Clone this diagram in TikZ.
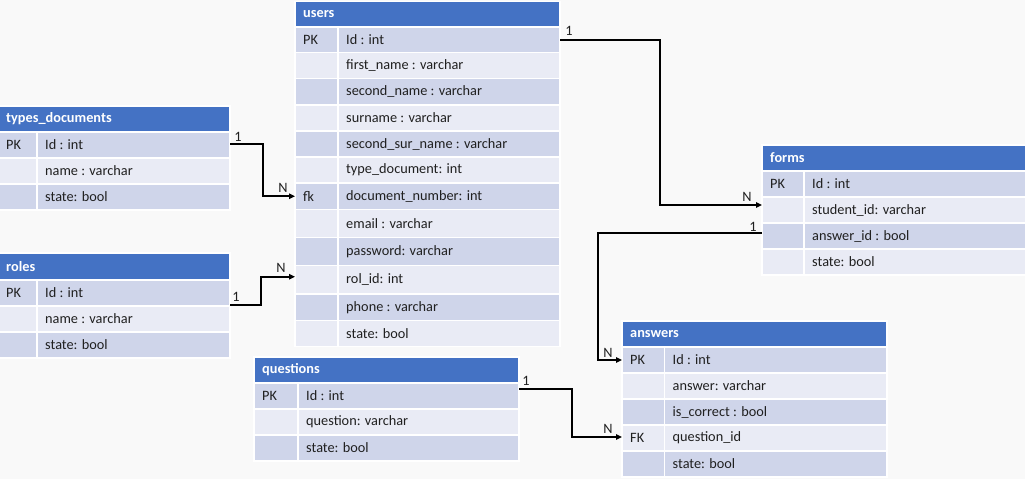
\documentclass[tikz,border=0pt]{standalone}
\usepackage{fontspec}
\setmainfont{Carlito}
\usetikzlibrary{arrows.meta,calc}
\definecolor{hdrblue}{HTML}{4472C4}
\definecolor{rowdark}{HTML}{CFD5EA}
\definecolor{rowlight}{HTML}{E9EBF5}
\definecolor{bgcol}{HTML}{F9F9F9}
\definecolor{txtcol}{HTML}{202020}
\tikzset{
  cellbox/.style={draw=white, line width=1.8pt, anchor=north west, inner sep=0pt, outer sep=0pt},
  celltext/.style={anchor=west, inner sep=0pt, text=txtcol, font=\fontsize{14.3}{17}\selectfont},
  hdrtext/.style={anchor=west, inner sep=0pt, text=white, font=\fontsize{14.3}{17}\selectfont\bfseries},
  conn/.style={draw=black, line width=1.7pt, -{Triangle[length=6pt,width=5.5pt]}},
  cardlbl/.style={inner sep=0pt, text=txtcol, font=\fontsize{14.3}{17}\selectfont},
}
% name, x0, xs, x1, ytop, ybot, fill, key, text
\newcommand\erow[9]{%
  \node[cellbox, fill=#7, minimum width={(#3-#2)*1pt}, minimum height={(#6-#5)*1pt}] (#1-k) at (#2,#5) {};
  \node[cellbox, fill=#7, minimum width={(#4-#3)*1pt}, minimum height={(#6-#5)*1pt}] (#1) at (#3,#5) {};
  \node[celltext] (#1-kt) at ([xshift=8pt]#1-k.west) {#8};
  \node[celltext] (#1-t) at ([xshift=8pt]#1.west) {#9};
}
% name, x0, x1, ytop, ybot, title
\newcommand\ehead[6]{%
  \node[cellbox, fill=hdrblue, minimum width={(#3-#2)*1pt}, minimum height={(#5-#4)*1pt}] (#1) at (#2,#4) {};
  \node[hdrtext] (#1-t) at ([xshift=8pt]#1.west) {#6};
}
\begin{document}
\begin{tikzpicture}[x=1pt,y=-1pt]
\useasboundingbox (0,0) rectangle (1025,479);
\fill[bgcol] (0,0) rectangle (1025,479);

% users
\ehead{users}{295}{560}{1.5}{27}{users}
\erow{users-id}{295}{338}{560}{27}{52.5}{rowdark}{PK}{Id : int}
\erow{users-fn}{295}{338}{560}{52.5}{78.5}{rowlight}{}{first\_name : varchar}
\erow{users-sn}{295}{338}{560}{78.5}{105}{rowdark}{}{second\_name : varchar}
\erow{users-su}{295}{338}{560}{105}{131}{rowlight}{}{surname : varchar}
\erow{users-ssn}{295}{338}{560}{131}{157}{rowdark}{}{second\_sur\_name : varchar}
\erow{users-td}{295}{338}{560}{157}{183}{rowlight}{}{type\_document: int}
\erow{users-dn}{295}{338}{560}{183}{209.5}{rowdark}{fk}{document\_number: int}
\erow{users-em}{295}{338}{560}{209.5}{237.5}{rowlight}{}{email : varchar}
\erow{users-pw}{295}{338}{560}{237.5}{265.5}{rowdark}{}{password: varchar}
\erow{users-rol}{295}{338}{560}{265.5}{294}{rowlight}{}{rol\_id: int}
\erow{users-ph}{295}{338}{560}{294}{320.5}{rowdark}{}{phone : varchar}
\erow{users-st}{295}{338}{560}{320.5}{346.5}{rowlight}{}{state: bool}

% types_documents
\ehead{td}{-2}{230}{106}{132}{types\_documents}
\erow{td-id}{-2}{37}{230}{132}{158}{rowdark}{PK}{Id : int}
\erow{td-name}{-2}{37}{230}{158}{184}{rowlight}{}{name : varchar}
\erow{td-st}{-2}{37}{230}{184}{210}{rowdark}{}{state: bool}

% roles
\ehead{roles}{-2}{230}{253}{280}{roles}
\erow{roles-id}{-2}{37}{230}{280}{306}{rowdark}{PK}{Id : int}
\erow{roles-name}{-2}{37}{230}{306}{332}{rowlight}{}{name : varchar}
\erow{roles-st}{-2}{37}{230}{332}{358}{rowdark}{}{state: bool}

% forms
\ehead{fm}{762}{1028}{145}{171}{forms}
\erow{fm-id}{762}{804}{1028}{171}{197}{rowdark}{PK}{Id : int}
\erow{fm-sid}{762}{804}{1028}{197}{223}{rowlight}{}{student\_id: varchar}
\erow{fm-aid}{762}{804}{1028}{223}{249}{rowdark}{}{answer\_id : bool}
\erow{fm-st}{762}{804}{1028}{249}{275}{rowlight}{}{state: bool}

% answers
\ehead{an}{622}{887}{321}{347}{answers}
\erow{an-id}{622}{664.5}{887}{347}{373}{rowdark}{PK}{Id : int}
\erow{an-ans}{622}{664.5}{887}{373}{399}{rowlight}{}{answer: varchar}
\erow{an-ic}{622}{664.5}{887}{399}{425}{rowdark}{}{is\_correct : bool}
\erow{an-qid}{622}{664.5}{887}{425}{451}{rowlight}{FK}{question\_id}
\erow{an-st}{622}{664.5}{887}{451}{477}{rowdark}{}{state: bool}

% questions
\ehead{qu}{254}{519}{357}{383}{questions}
\erow{qu-id}{254}{298}{519}{383}{409}{rowdark}{PK}{Id : int}
\erow{qu-q}{254}{298}{519}{409}{435}{rowlight}{}{question: varchar}
\erow{qu-st}{254}{298}{519}{435}{461}{rowdark}{}{state: bool}

% connectors
\draw[conn] (users-id.east) -- ++(100,0) |- ([yshift=5pt]fm-sid-k.west);
\draw[conn] ([yshift=3pt]fm-aid-k.west) -- ++(-164,0) |- (an-id-k.west);
\draw[conn] ([yshift=1pt]td-id.east) -- ++(33,0) |- (users-dn-k.west);
\draw[conn] ([yshift=1pt]roles-id.south east) -- ++(31,0) |- ([yshift=3pt]users-rol-k.west);
\draw[conn] ([yshift=7pt]qu-id.east) -- ++(53,0) |- ([yshift=1pt]an-qid-k.west);

% cardinality labels
\node[cardlbl] (l1a) at (569,31) {1};
\node[cardlbl] (l1b) at (747,197) {N};
\node[cardlbl] (l2a) at (753,227) {1};
\node[cardlbl] (l2b) at (608,353) {N};
\node[cardlbl] (l3a) at (238,137) {1};
\node[cardlbl] (l3b) at (283,188) {N};
\node[cardlbl] (l4a) at (236,297) {1};
\node[cardlbl] (l4b) at (281,268) {N};
\node[cardlbl] (l5a) at (526,381) {1};
\node[cardlbl] (l5b) at (608,429) {N};
\end{tikzpicture}
\end{document}
